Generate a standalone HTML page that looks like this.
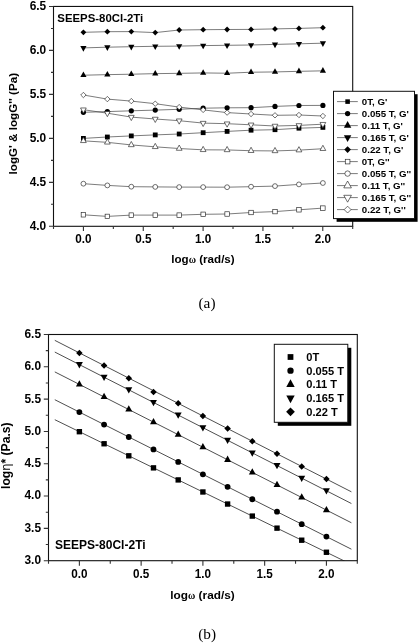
<!DOCTYPE html>
<html><head><meta charset="utf-8"><title>Figure</title>
<style>html,body{margin:0;padding:0;background:#fff;width:419px;height:644px;overflow:hidden}svg{display:block}</style>
</head><body>
<svg width="419" height="644" viewBox="0 0 419 644">
<rect width="419" height="644" fill="#fff"/>
<polyline points="83.4,138.4 107.35,137 131.3,135.9 155.25,134.9 179.2,134 203.15,132.7 227.1,131.4 251.05,130.2 275,129.7 298.95,128.2 322.9,127.4" fill="none" stroke="#444" stroke-width="0.7"/>
<polyline points="83.4,112.3 107.35,111.6 131.3,110.8 155.25,110.1 179.2,109.3 203.15,108.2 227.1,107.8 251.05,107.7 275,106.4 298.95,105.5 322.9,105.4" fill="none" stroke="#444" stroke-width="0.7"/>
<polyline points="83.4,75.23 107.35,74.63 131.3,74.23 155.25,73.63 179.2,73.33 203.15,72.93 227.1,73.23 251.05,72.23 275,71.93 298.95,71.33 322.9,70.83" fill="none" stroke="#444" stroke-width="0.7"/>
<polyline points="83.4,47.9 107.35,47.2 131.3,46.7 155.25,46.3 179.2,46.1 203.15,45.6 227.1,45.3 251.05,45 275,44.4 298.95,43.8 322.9,43.2" fill="none" stroke="#444" stroke-width="0.7"/>
<polyline points="83.4,32.3 107.35,31.7 131.3,31.6 155.25,32.6 179.2,30 203.15,29.7 227.1,29.5 251.05,29.4 275,28.9 298.95,28.4 322.9,27.7" fill="none" stroke="#444" stroke-width="0.7"/>
<polyline points="83.4,214.8 107.35,216.4 131.3,215.1 155.25,215.1 179.2,215.1 203.15,214.3 227.1,214 251.05,212.5 275,211.6 298.95,209.8 322.9,208.1" fill="none" stroke="#444" stroke-width="0.7"/>
<polyline points="83.4,183.7 107.35,185.4 131.3,186.7 155.25,186.9 179.2,187.1 203.15,187.1 227.1,187.2 251.05,186.7 275,186.1 298.95,184.4 322.9,183" fill="none" stroke="#444" stroke-width="0.7"/>
<polyline points="83.4,140.83 107.35,142.33 131.3,144.93 155.25,146.83 179.2,148.53 203.15,149.83 227.1,149.93 251.05,150.73 275,150.93 298.95,150.13 322.9,148.73" fill="none" stroke="#444" stroke-width="0.7"/>
<polyline points="83.4,109.7 107.35,113.2 131.3,117.1 155.25,119 179.2,120.7 203.15,123.1 227.1,123.7 251.05,124.8 275,126 298.95,125.4 322.9,124.2" fill="none" stroke="#444" stroke-width="0.7"/>
<polyline points="83.4,95 107.35,99.1 131.3,101.1 155.25,103.7 179.2,107.1 203.15,109.9 227.1,112.6 251.05,114 275,115.3 298.95,115 322.9,116" fill="none" stroke="#444" stroke-width="0.7"/>
<rect x="81" y="136" width="4.8" height="4.8" fill="#000"/>
<rect x="104.95" y="134.6" width="4.8" height="4.8" fill="#000"/>
<rect x="128.9" y="133.5" width="4.8" height="4.8" fill="#000"/>
<rect x="152.85" y="132.5" width="4.8" height="4.8" fill="#000"/>
<rect x="176.8" y="131.6" width="4.8" height="4.8" fill="#000"/>
<rect x="200.75" y="130.3" width="4.8" height="4.8" fill="#000"/>
<rect x="224.7" y="129" width="4.8" height="4.8" fill="#000"/>
<rect x="248.65" y="127.8" width="4.8" height="4.8" fill="#000"/>
<rect x="272.6" y="127.3" width="4.8" height="4.8" fill="#000"/>
<rect x="296.55" y="125.8" width="4.8" height="4.8" fill="#000"/>
<rect x="320.5" y="125" width="4.8" height="4.8" fill="#000"/>
<circle cx="83.4" cy="112.3" r="2.6" fill="#000"/>
<circle cx="107.35" cy="111.6" r="2.6" fill="#000"/>
<circle cx="131.3" cy="110.8" r="2.6" fill="#000"/>
<circle cx="155.25" cy="110.1" r="2.6" fill="#000"/>
<circle cx="179.2" cy="109.3" r="2.6" fill="#000"/>
<circle cx="203.15" cy="108.2" r="2.6" fill="#000"/>
<circle cx="227.1" cy="107.8" r="2.6" fill="#000"/>
<circle cx="251.05" cy="107.7" r="2.6" fill="#000"/>
<circle cx="275" cy="106.4" r="2.6" fill="#000"/>
<circle cx="298.95" cy="105.5" r="2.6" fill="#000"/>
<circle cx="322.9" cy="105.4" r="2.6" fill="#000"/>
<path d="M83.4 71.5L86.5 77.1L80.3 77.1Z" fill="#000"/>
<path d="M107.35 70.9L110.45 76.5L104.25 76.5Z" fill="#000"/>
<path d="M131.3 70.5L134.4 76.1L128.2 76.1Z" fill="#000"/>
<path d="M155.25 69.9L158.35 75.5L152.15 75.5Z" fill="#000"/>
<path d="M179.2 69.6L182.3 75.2L176.1 75.2Z" fill="#000"/>
<path d="M203.15 69.2L206.25 74.8L200.05 74.8Z" fill="#000"/>
<path d="M227.1 69.5L230.2 75.1L224 75.1Z" fill="#000"/>
<path d="M251.05 68.5L254.15 74.1L247.95 74.1Z" fill="#000"/>
<path d="M275 68.2L278.1 73.8L271.9 73.8Z" fill="#000"/>
<path d="M298.95 67.6L302.05 73.2L295.85 73.2Z" fill="#000"/>
<path d="M322.9 67.1L326 72.7L319.8 72.7Z" fill="#000"/>
<path d="M83.4 51.63L86.5 46.03L80.3 46.03Z" fill="#000"/>
<path d="M107.35 50.93L110.45 45.33L104.25 45.33Z" fill="#000"/>
<path d="M131.3 50.43L134.4 44.83L128.2 44.83Z" fill="#000"/>
<path d="M155.25 50.03L158.35 44.43L152.15 44.43Z" fill="#000"/>
<path d="M179.2 49.83L182.3 44.23L176.1 44.23Z" fill="#000"/>
<path d="M203.15 49.33L206.25 43.73L200.05 43.73Z" fill="#000"/>
<path d="M227.1 49.03L230.2 43.43L224 43.43Z" fill="#000"/>
<path d="M251.05 48.73L254.15 43.13L247.95 43.13Z" fill="#000"/>
<path d="M275 48.13L278.1 42.53L271.9 42.53Z" fill="#000"/>
<path d="M298.95 47.53L302.05 41.93L295.85 41.93Z" fill="#000"/>
<path d="M322.9 46.93L326 41.33L319.8 41.33Z" fill="#000"/>
<path d="M83.4 29.4L86.3 32.3L83.4 35.2L80.5 32.3Z" fill="#000"/>
<path d="M107.35 28.8L110.25 31.7L107.35 34.6L104.45 31.7Z" fill="#000"/>
<path d="M131.3 28.7L134.2 31.6L131.3 34.5L128.4 31.6Z" fill="#000"/>
<path d="M155.25 29.7L158.15 32.6L155.25 35.5L152.35 32.6Z" fill="#000"/>
<path d="M179.2 27.1L182.1 30L179.2 32.9L176.3 30Z" fill="#000"/>
<path d="M203.15 26.8L206.05 29.7L203.15 32.6L200.25 29.7Z" fill="#000"/>
<path d="M227.1 26.6L230 29.5L227.1 32.4L224.2 29.5Z" fill="#000"/>
<path d="M251.05 26.5L253.95 29.4L251.05 32.3L248.15 29.4Z" fill="#000"/>
<path d="M275 26L277.9 28.9L275 31.8L272.1 28.9Z" fill="#000"/>
<path d="M298.95 25.5L301.85 28.4L298.95 31.3L296.05 28.4Z" fill="#000"/>
<path d="M322.9 24.8L325.8 27.7L322.9 30.6L320 27.7Z" fill="#000"/>
<rect x="81.17" y="212.57" width="4.46" height="4.46" fill="#fff" stroke="#222" stroke-width="0.65"/>
<rect x="105.12" y="214.17" width="4.46" height="4.46" fill="#fff" stroke="#222" stroke-width="0.65"/>
<rect x="129.07" y="212.87" width="4.46" height="4.46" fill="#fff" stroke="#222" stroke-width="0.65"/>
<rect x="153.02" y="212.87" width="4.46" height="4.46" fill="#fff" stroke="#222" stroke-width="0.65"/>
<rect x="176.97" y="212.87" width="4.46" height="4.46" fill="#fff" stroke="#222" stroke-width="0.65"/>
<rect x="200.92" y="212.07" width="4.46" height="4.46" fill="#fff" stroke="#222" stroke-width="0.65"/>
<rect x="224.87" y="211.77" width="4.46" height="4.46" fill="#fff" stroke="#222" stroke-width="0.65"/>
<rect x="248.82" y="210.27" width="4.46" height="4.46" fill="#fff" stroke="#222" stroke-width="0.65"/>
<rect x="272.77" y="209.37" width="4.46" height="4.46" fill="#fff" stroke="#222" stroke-width="0.65"/>
<rect x="296.72" y="207.57" width="4.46" height="4.46" fill="#fff" stroke="#222" stroke-width="0.65"/>
<rect x="320.67" y="205.87" width="4.46" height="4.46" fill="#fff" stroke="#222" stroke-width="0.65"/>
<circle cx="83.4" cy="183.7" r="2.42" fill="#fff" stroke="#222" stroke-width="0.65"/>
<circle cx="107.35" cy="185.4" r="2.42" fill="#fff" stroke="#222" stroke-width="0.65"/>
<circle cx="131.3" cy="186.7" r="2.42" fill="#fff" stroke="#222" stroke-width="0.65"/>
<circle cx="155.25" cy="186.9" r="2.42" fill="#fff" stroke="#222" stroke-width="0.65"/>
<circle cx="179.2" cy="187.1" r="2.42" fill="#fff" stroke="#222" stroke-width="0.65"/>
<circle cx="203.15" cy="187.1" r="2.42" fill="#fff" stroke="#222" stroke-width="0.65"/>
<circle cx="227.1" cy="187.2" r="2.42" fill="#fff" stroke="#222" stroke-width="0.65"/>
<circle cx="251.05" cy="186.7" r="2.42" fill="#fff" stroke="#222" stroke-width="0.65"/>
<circle cx="275" cy="186.1" r="2.42" fill="#fff" stroke="#222" stroke-width="0.65"/>
<circle cx="298.95" cy="184.4" r="2.42" fill="#fff" stroke="#222" stroke-width="0.65"/>
<circle cx="322.9" cy="183" r="2.42" fill="#fff" stroke="#222" stroke-width="0.65"/>
<path d="M83.4 137.36L86.28 142.57L80.52 142.57Z" fill="#fff" stroke="#222" stroke-width="0.65"/>
<path d="M107.35 138.86L110.23 144.07L104.47 144.07Z" fill="#fff" stroke="#222" stroke-width="0.65"/>
<path d="M131.3 141.46L134.18 146.67L128.42 146.67Z" fill="#fff" stroke="#222" stroke-width="0.65"/>
<path d="M155.25 143.36L158.13 148.57L152.37 148.57Z" fill="#fff" stroke="#222" stroke-width="0.65"/>
<path d="M179.2 145.06L182.08 150.27L176.32 150.27Z" fill="#fff" stroke="#222" stroke-width="0.65"/>
<path d="M203.15 146.36L206.03 151.57L200.27 151.57Z" fill="#fff" stroke="#222" stroke-width="0.65"/>
<path d="M227.1 146.46L229.98 151.67L224.22 151.67Z" fill="#fff" stroke="#222" stroke-width="0.65"/>
<path d="M251.05 147.26L253.93 152.47L248.17 152.47Z" fill="#fff" stroke="#222" stroke-width="0.65"/>
<path d="M275 147.46L277.88 152.67L272.12 152.67Z" fill="#fff" stroke="#222" stroke-width="0.65"/>
<path d="M298.95 146.66L301.83 151.87L296.07 151.87Z" fill="#fff" stroke="#222" stroke-width="0.65"/>
<path d="M322.9 145.26L325.78 150.47L320.02 150.47Z" fill="#fff" stroke="#222" stroke-width="0.65"/>
<path d="M83.4 113.17L86.28 107.96L80.52 107.96Z" fill="#fff" stroke="#222" stroke-width="0.65"/>
<path d="M107.35 116.67L110.23 111.46L104.47 111.46Z" fill="#fff" stroke="#222" stroke-width="0.65"/>
<path d="M131.3 120.57L134.18 115.36L128.42 115.36Z" fill="#fff" stroke="#222" stroke-width="0.65"/>
<path d="M155.25 122.47L158.13 117.26L152.37 117.26Z" fill="#fff" stroke="#222" stroke-width="0.65"/>
<path d="M179.2 124.17L182.08 118.96L176.32 118.96Z" fill="#fff" stroke="#222" stroke-width="0.65"/>
<path d="M203.15 126.57L206.03 121.36L200.27 121.36Z" fill="#fff" stroke="#222" stroke-width="0.65"/>
<path d="M227.1 127.17L229.98 121.96L224.22 121.96Z" fill="#fff" stroke="#222" stroke-width="0.65"/>
<path d="M251.05 128.27L253.93 123.06L248.17 123.06Z" fill="#fff" stroke="#222" stroke-width="0.65"/>
<path d="M275 129.47L277.88 124.26L272.12 124.26Z" fill="#fff" stroke="#222" stroke-width="0.65"/>
<path d="M298.95 128.87L301.83 123.66L296.07 123.66Z" fill="#fff" stroke="#222" stroke-width="0.65"/>
<path d="M322.9 127.67L325.78 122.46L320.02 122.46Z" fill="#fff" stroke="#222" stroke-width="0.65"/>
<path d="M83.4 92.3L86.1 95L83.4 97.7L80.7 95Z" fill="#fff" stroke="#222" stroke-width="0.65"/>
<path d="M107.35 96.4L110.05 99.1L107.35 101.8L104.65 99.1Z" fill="#fff" stroke="#222" stroke-width="0.65"/>
<path d="M131.3 98.4L134 101.1L131.3 103.8L128.6 101.1Z" fill="#fff" stroke="#222" stroke-width="0.65"/>
<path d="M155.25 101L157.95 103.7L155.25 106.4L152.55 103.7Z" fill="#fff" stroke="#222" stroke-width="0.65"/>
<path d="M179.2 104.4L181.9 107.1L179.2 109.8L176.5 107.1Z" fill="#fff" stroke="#222" stroke-width="0.65"/>
<path d="M203.15 107.2L205.85 109.9L203.15 112.6L200.45 109.9Z" fill="#fff" stroke="#222" stroke-width="0.65"/>
<path d="M227.1 109.9L229.8 112.6L227.1 115.3L224.4 112.6Z" fill="#fff" stroke="#222" stroke-width="0.65"/>
<path d="M251.05 111.3L253.75 114L251.05 116.7L248.35 114Z" fill="#fff" stroke="#222" stroke-width="0.65"/>
<path d="M275 112.6L277.7 115.3L275 118L272.3 115.3Z" fill="#fff" stroke="#222" stroke-width="0.65"/>
<path d="M298.95 112.3L301.65 115L298.95 117.7L296.25 115Z" fill="#fff" stroke="#222" stroke-width="0.65"/>
<path d="M322.9 113.3L325.6 116L322.9 118.7L320.2 116Z" fill="#fff" stroke="#222" stroke-width="0.65"/>
<rect x="53.5" y="6.45" width="299.2" height="219.85" fill="none" stroke="#111" stroke-width="1.1"/>
<path d="M53.5 226.3H49M53.5 204.32H51M53.5 182.33H49M53.5 160.34H51M53.5 138.36H49M53.5 116.38H51M53.5 94.39H49M53.5 72.41H51M53.5 50.42H49M53.5 28.44H51M53.5 6.45H49M53.5 226.3V228.9M83.42 226.3V230.9M113.34 226.3V228.9M143.26 226.3V230.9M173.18 226.3V228.9M203.1 226.3V230.9M233.02 226.3V228.9M262.94 226.3V230.9M292.86 226.3V228.9M322.78 226.3V230.9M352.7 226.3V228.9" stroke="#333" stroke-width="1.1" fill="none"/>
<text x="46.2" y="9.85" font-family="'Liberation Sans', Arial, sans-serif" font-weight="bold" font-size="11.9" text-anchor="end">6.5</text>
<text x="46.2" y="53.82" font-family="'Liberation Sans', Arial, sans-serif" font-weight="bold" font-size="11.9" text-anchor="end">6.0</text>
<text x="46.2" y="97.79" font-family="'Liberation Sans', Arial, sans-serif" font-weight="bold" font-size="11.9" text-anchor="end">5.5</text>
<text x="46.2" y="141.76" font-family="'Liberation Sans', Arial, sans-serif" font-weight="bold" font-size="11.9" text-anchor="end">5.0</text>
<text x="46.2" y="185.73" font-family="'Liberation Sans', Arial, sans-serif" font-weight="bold" font-size="11.9" text-anchor="end">4.5</text>
<text x="46.2" y="229.7" font-family="'Liberation Sans', Arial, sans-serif" font-weight="bold" font-size="11.9" text-anchor="end">4.0</text>
<text transform="translate(83.42,243.4) scale(1,1.09)" font-family="'Liberation Sans', Arial, sans-serif" font-weight="bold" font-size="11.7" text-anchor="middle">0.0</text>
<text transform="translate(143.26,243.4) scale(1,1.09)" font-family="'Liberation Sans', Arial, sans-serif" font-weight="bold" font-size="11.7" text-anchor="middle">0.5</text>
<text transform="translate(203.1,243.4) scale(1,1.09)" font-family="'Liberation Sans', Arial, sans-serif" font-weight="bold" font-size="11.7" text-anchor="middle">1.0</text>
<text transform="translate(262.94,243.4) scale(1,1.09)" font-family="'Liberation Sans', Arial, sans-serif" font-weight="bold" font-size="11.7" text-anchor="middle">1.5</text>
<text transform="translate(322.78,243.4) scale(1,1.09)" font-family="'Liberation Sans', Arial, sans-serif" font-weight="bold" font-size="11.7" text-anchor="middle">2.0</text>
<text x="203" y="262.6" font-family="'Liberation Sans', Arial, sans-serif" font-weight="bold" font-size="11.6" text-anchor="middle">log<tspan font-family="'Liberation Serif', 'Times New Roman', serif" font-weight="bold" font-size="10">&#969;</tspan> (rad/s)</text>
<text transform="translate(17,123.7) rotate(-90)" font-family="'Liberation Sans', Arial, sans-serif" font-weight="bold" font-size="11.65" text-anchor="middle">logG' &amp; logG'' (Pa)</text>
<text x="57.3" y="22" font-family="'Liberation Sans', Arial, sans-serif" font-weight="bold" font-size="11.4">SEEPS-80Cl-2Ti</text>
<text x="207" y="307.7" font-family="'Liberation Serif', 'Times New Roman', serif" font-size="15.3" text-anchor="middle">(a)</text>
<rect x="336.6" y="94.2" width="81" height="127.6" fill="#000"/>
<rect x="333.5" y="91.3" width="81" height="127.3" fill="#fff" stroke="#111" stroke-width="1"/>
<path d="M337 101.6H357.8" stroke="#444" stroke-width="0.7"/>
<rect x="345.32" y="99.32" width="4.56" height="4.56" fill="#000"/>
<text x="361.8" y="105" font-family="'Liberation Sans', Arial, sans-serif" font-weight="bold" font-size="9.7">0T, G&#39;</text>
<path d="M337 113.6H357.8" stroke="#444" stroke-width="0.7"/>
<circle cx="347.6" cy="113.6" r="2.65" fill="#000"/>
<text x="361.8" y="117" font-family="'Liberation Sans', Arial, sans-serif" font-weight="bold" font-size="9.7">0.055 T, G&#39;</text>
<path d="M337 125.6H357.8" stroke="#444" stroke-width="0.7"/>
<path d="M347.6 121.12L351.32 127.84L343.88 127.84Z" fill="#000"/>
<text x="361.8" y="129" font-family="'Liberation Sans', Arial, sans-serif" font-weight="bold" font-size="9.7">0.11 T, G&#39;</text>
<path d="M337 137.6H357.8" stroke="#444" stroke-width="0.7"/>
<path d="M347.6 142.08L351.32 135.36L343.88 135.36Z" fill="#000"/>
<text x="361.8" y="141" font-family="'Liberation Sans', Arial, sans-serif" font-weight="bold" font-size="9.7">0.165 T, G&#39;</text>
<path d="M337 149.6H357.8" stroke="#444" stroke-width="0.7"/>
<path d="M347.6 146.26L350.94 149.6L347.6 152.94L344.27 149.6Z" fill="#000"/>
<text x="361.8" y="153" font-family="'Liberation Sans', Arial, sans-serif" font-weight="bold" font-size="9.7">0.22 T, G&#39;</text>
<path d="M337 161.6H357.8" stroke="#444" stroke-width="0.7"/>
<rect x="345.27" y="159.27" width="4.66" height="4.66" fill="#fff" stroke="#222" stroke-width="0.65"/>
<text x="361.8" y="165" font-family="'Liberation Sans', Arial, sans-serif" font-weight="bold" font-size="9.7">0T, G&#39;&#39;</text>
<path d="M337 173.6H357.8" stroke="#444" stroke-width="0.7"/>
<circle cx="347.6" cy="173.6" r="2.71" fill="#fff" stroke="#222" stroke-width="0.65"/>
<text x="361.8" y="177" font-family="'Liberation Sans', Arial, sans-serif" font-weight="bold" font-size="9.7">0.055 T, G&#39;&#39;</text>
<path d="M337 185.6H357.8" stroke="#444" stroke-width="0.7"/>
<path d="M347.6 181.02L351.41 187.89L343.79 187.89Z" fill="#fff" stroke="#222" stroke-width="0.65"/>
<text x="361.8" y="189" font-family="'Liberation Sans', Arial, sans-serif" font-weight="bold" font-size="9.7">0.11 T, G&#39;&#39;</text>
<path d="M337 197.6H357.8" stroke="#444" stroke-width="0.7"/>
<path d="M347.6 202.18L351.41 195.31L343.79 195.31Z" fill="#fff" stroke="#222" stroke-width="0.65"/>
<text x="361.8" y="201" font-family="'Liberation Sans', Arial, sans-serif" font-weight="bold" font-size="9.7">0.165 T, G&#39;&#39;</text>
<path d="M337 209.6H357.8" stroke="#444" stroke-width="0.7"/>
<path d="M347.6 206.19L351.01 209.6L347.6 213.01L344.19 209.6Z" fill="#fff" stroke="#222" stroke-width="0.65"/>
<text x="361.8" y="213" font-family="'Liberation Sans', Arial, sans-serif" font-weight="bold" font-size="9.7">0.22 T, G&#39;&#39;</text>
<defs><clipPath id="cb"><rect x="48.5" y="334.5" width="308.8" height="226.2"/></clipPath></defs>
<g clip-path="url(#cb)">
<path d="M54.8 419.7L351.4 564.45" stroke="#222" stroke-width="0.8"/>
<path d="M54.8 399.71L351.4 549.2" stroke="#222" stroke-width="0.8"/>
<path d="M54.8 371.9L351.4 522.78" stroke="#222" stroke-width="0.8"/>
<path d="M54.8 352.05L351.4 503.52" stroke="#222" stroke-width="0.8"/>
<path d="M54.8 340.35L351.4 491.82" stroke="#222" stroke-width="0.8"/>
<rect x="76.69" y="429.01" width="5.38" height="5.38" fill="#000"/>
<rect x="101.4" y="441.07" width="5.38" height="5.38" fill="#000"/>
<rect x="126.1" y="453.12" width="5.38" height="5.38" fill="#000"/>
<rect x="150.8" y="465.18" width="5.38" height="5.38" fill="#000"/>
<rect x="175.51" y="477.23" width="5.38" height="5.38" fill="#000"/>
<rect x="200.21" y="489.29" width="5.38" height="5.38" fill="#000"/>
<rect x="224.92" y="501.35" width="5.38" height="5.38" fill="#000"/>
<rect x="249.62" y="513.4" width="5.38" height="5.38" fill="#000"/>
<rect x="274.32" y="525.46" width="5.38" height="5.38" fill="#000"/>
<rect x="299.03" y="537.51" width="5.38" height="5.38" fill="#000"/>
<rect x="323.73" y="549.57" width="5.38" height="5.38" fill="#000"/>
<circle cx="79.38" cy="412.1" r="2.91" fill="#000"/>
<circle cx="104.08" cy="424.55" r="2.91" fill="#000"/>
<circle cx="128.79" cy="437" r="2.91" fill="#000"/>
<circle cx="153.49" cy="449.45" r="2.91" fill="#000"/>
<circle cx="178.2" cy="461.9" r="2.91" fill="#000"/>
<circle cx="202.9" cy="474.35" r="2.91" fill="#000"/>
<circle cx="227.6" cy="486.8" r="2.91" fill="#000"/>
<circle cx="252.31" cy="499.26" r="2.91" fill="#000"/>
<circle cx="277.01" cy="511.71" r="2.91" fill="#000"/>
<circle cx="301.72" cy="524.16" r="2.91" fill="#000"/>
<circle cx="326.42" cy="536.61" r="2.91" fill="#000"/>
<path d="M79.38 380.22L82.85 386.49L75.91 386.49Z" fill="#000"/>
<path d="M104.08 392.79L107.56 399.06L100.61 399.06Z" fill="#000"/>
<path d="M128.79 405.35L132.26 411.62L125.32 411.62Z" fill="#000"/>
<path d="M153.49 417.92L156.96 424.19L150.02 424.19Z" fill="#000"/>
<path d="M178.2 430.49L181.67 436.76L174.72 436.76Z" fill="#000"/>
<path d="M202.9 443.05L206.37 449.33L199.43 449.33Z" fill="#000"/>
<path d="M227.6 455.62L231.08 461.89L224.13 461.89Z" fill="#000"/>
<path d="M252.31 468.19L255.78 474.46L248.84 474.46Z" fill="#000"/>
<path d="M277.01 480.75L280.48 487.03L273.54 487.03Z" fill="#000"/>
<path d="M301.72 493.32L305.19 499.59L298.24 499.59Z" fill="#000"/>
<path d="M326.42 505.89L329.89 512.16L322.95 512.16Z" fill="#000"/>
<path d="M79.38 368.38L82.85 362.11L75.91 362.11Z" fill="#000"/>
<path d="M104.08 381L107.56 374.73L100.61 374.73Z" fill="#000"/>
<path d="M128.79 393.61L132.26 387.34L125.32 387.34Z" fill="#000"/>
<path d="M153.49 406.23L156.96 399.96L150.02 399.96Z" fill="#000"/>
<path d="M178.2 418.85L181.67 412.57L174.72 412.57Z" fill="#000"/>
<path d="M202.9 431.46L206.37 425.19L199.43 425.19Z" fill="#000"/>
<path d="M227.6 444.08L231.08 437.81L224.13 437.81Z" fill="#000"/>
<path d="M252.31 456.7L255.78 450.42L248.84 450.42Z" fill="#000"/>
<path d="M277.01 469.31L280.48 463.04L273.54 463.04Z" fill="#000"/>
<path d="M301.72 481.93L305.19 475.66L298.24 475.66Z" fill="#000"/>
<path d="M326.42 494.54L329.89 488.27L322.95 488.27Z" fill="#000"/>
<path d="M79.38 349.65L82.63 352.9L79.38 356.15L76.13 352.9Z" fill="#000"/>
<path d="M104.08 362.27L107.33 365.52L104.08 368.76L100.84 365.52Z" fill="#000"/>
<path d="M128.79 374.88L132.04 378.13L128.79 381.38L125.54 378.13Z" fill="#000"/>
<path d="M153.49 388.7L156.74 391.95L153.49 395.2L150.24 391.95Z" fill="#000"/>
<path d="M178.2 400.12L181.44 403.37L178.2 406.61L174.95 403.37Z" fill="#000"/>
<path d="M202.9 412.73L206.15 415.98L202.9 419.23L199.65 415.98Z" fill="#000"/>
<path d="M227.6 425.35L230.85 428.6L227.6 431.85L224.36 428.6Z" fill="#000"/>
<path d="M252.31 437.97L255.56 441.21L252.31 444.46L249.06 441.21Z" fill="#000"/>
<path d="M277.01 450.58L280.26 453.83L277.01 457.08L273.76 453.83Z" fill="#000"/>
<path d="M301.72 463.2L304.96 466.45L301.72 469.69L298.47 466.45Z" fill="#000"/>
<path d="M326.42 475.82L329.67 479.06L326.42 482.31L323.17 479.06Z" fill="#000"/>
</g>
<rect x="48.5" y="334.5" width="308.8" height="226.2" fill="none" stroke="#111" stroke-width="1.1"/>
<path d="M48.5 560.7H43.8M48.5 544.54H45.8M48.5 528.39H43.8M48.5 512.23H45.8M48.5 496.07H43.8M48.5 479.91H45.8M48.5 463.76H43.8M48.5 447.6H45.8M48.5 431.44H43.8M48.5 415.29H45.8M48.5 399.13H43.8M48.5 382.97H45.8M48.5 366.81H43.8M48.5 350.66H45.8M48.5 334.5H43.8M48.5 560.7V563.7M79.38 560.7V565.7M110.26 560.7V563.7M141.14 560.7V565.7M172.02 560.7V563.7M202.9 560.7V565.7M233.78 560.7V563.7M264.66 560.7V565.7M295.54 560.7V563.7M326.42 560.7V565.7M357.3 560.7V563.7" stroke="#333" stroke-width="1.1" fill="none"/>
<text x="41" y="564.1" font-family="'Liberation Sans', Arial, sans-serif" font-weight="bold" font-size="11.9" text-anchor="end">3.0</text>
<text x="41" y="531.79" font-family="'Liberation Sans', Arial, sans-serif" font-weight="bold" font-size="11.9" text-anchor="end">3.5</text>
<text x="41" y="499.47" font-family="'Liberation Sans', Arial, sans-serif" font-weight="bold" font-size="11.9" text-anchor="end">4.0</text>
<text x="41" y="467.16" font-family="'Liberation Sans', Arial, sans-serif" font-weight="bold" font-size="11.9" text-anchor="end">4.5</text>
<text x="41" y="434.84" font-family="'Liberation Sans', Arial, sans-serif" font-weight="bold" font-size="11.9" text-anchor="end">5.0</text>
<text x="41" y="402.53" font-family="'Liberation Sans', Arial, sans-serif" font-weight="bold" font-size="11.9" text-anchor="end">5.5</text>
<text x="41" y="370.21" font-family="'Liberation Sans', Arial, sans-serif" font-weight="bold" font-size="11.9" text-anchor="end">6.0</text>
<text x="41" y="337.9" font-family="'Liberation Sans', Arial, sans-serif" font-weight="bold" font-size="11.9" text-anchor="end">6.5</text>
<text transform="translate(79.38,578.2) scale(1,1.09)" font-family="'Liberation Sans', Arial, sans-serif" font-weight="bold" font-size="11.7" text-anchor="middle">0.0</text>
<text transform="translate(141.14,578.2) scale(1,1.09)" font-family="'Liberation Sans', Arial, sans-serif" font-weight="bold" font-size="11.7" text-anchor="middle">0.5</text>
<text transform="translate(202.9,578.2) scale(1,1.09)" font-family="'Liberation Sans', Arial, sans-serif" font-weight="bold" font-size="11.7" text-anchor="middle">1.0</text>
<text transform="translate(264.66,578.2) scale(1,1.09)" font-family="'Liberation Sans', Arial, sans-serif" font-weight="bold" font-size="11.7" text-anchor="middle">1.5</text>
<text transform="translate(326.42,578.2) scale(1,1.09)" font-family="'Liberation Sans', Arial, sans-serif" font-weight="bold" font-size="11.7" text-anchor="middle">2.0</text>
<text x="202.5" y="598.6" font-family="'Liberation Sans', Arial, sans-serif" font-weight="bold" font-size="11.8" text-anchor="middle">log<tspan font-family="'Liberation Serif', 'Times New Roman', serif" font-weight="bold" font-size="10">&#969;</tspan> (rad/s)</text>
<text transform="translate(10,455.7) rotate(-90)" font-family="'Liberation Sans', Arial, sans-serif" font-weight="bold" font-size="12.1" text-anchor="middle">log<tspan font-family="DejaVu Sans, sans-serif" font-weight="normal" font-size="11.5">&#951;</tspan>* (Pa.s)</text>
<text x="55.1" y="548.7" font-family="'Liberation Sans', Arial, sans-serif" font-weight="bold" font-size="12">SEEPS-80Cl-2Ti</text>
<text x="207.2" y="639" font-family="'Liberation Serif', 'Times New Roman', serif" font-size="15.3" text-anchor="middle">(b)</text>
<rect x="277.8" y="347.8" width="73.5" height="78" fill="#000"/>
<rect x="274.3" y="344.3" width="73.5" height="78" fill="#fff" stroke="#111" stroke-width="1"/>
<rect x="287.62" y="354.12" width="5.76" height="5.76" fill="#000"/>
<text x="306.3" y="360.9" font-family="'Liberation Sans', Arial, sans-serif" font-weight="bold" font-size="11.1">0T</text>
<circle cx="290.5" cy="370.7" r="3.17" fill="#000"/>
<text x="306.3" y="374.6" font-family="'Liberation Sans', Arial, sans-serif" font-weight="bold" font-size="11.1">0.055 T</text>
<path d="M290.5 379.36L294.69 386.92L286.31 386.92Z" fill="#000"/>
<text x="306.3" y="388.3" font-family="'Liberation Sans', Arial, sans-serif" font-weight="bold" font-size="11.1">0.11 T</text>
<path d="M290.5 403.14L294.69 395.58L286.31 395.58Z" fill="#000"/>
<text x="306.3" y="402" font-family="'Liberation Sans', Arial, sans-serif" font-weight="bold" font-size="11.1">0.165 T</text>
<path d="M290.5 407.45L294.85 411.8L290.5 416.15L286.15 411.8Z" fill="#000"/>
<text x="306.3" y="415.7" font-family="'Liberation Sans', Arial, sans-serif" font-weight="bold" font-size="11.1">0.22 T</text>
</svg>
</body></html>
